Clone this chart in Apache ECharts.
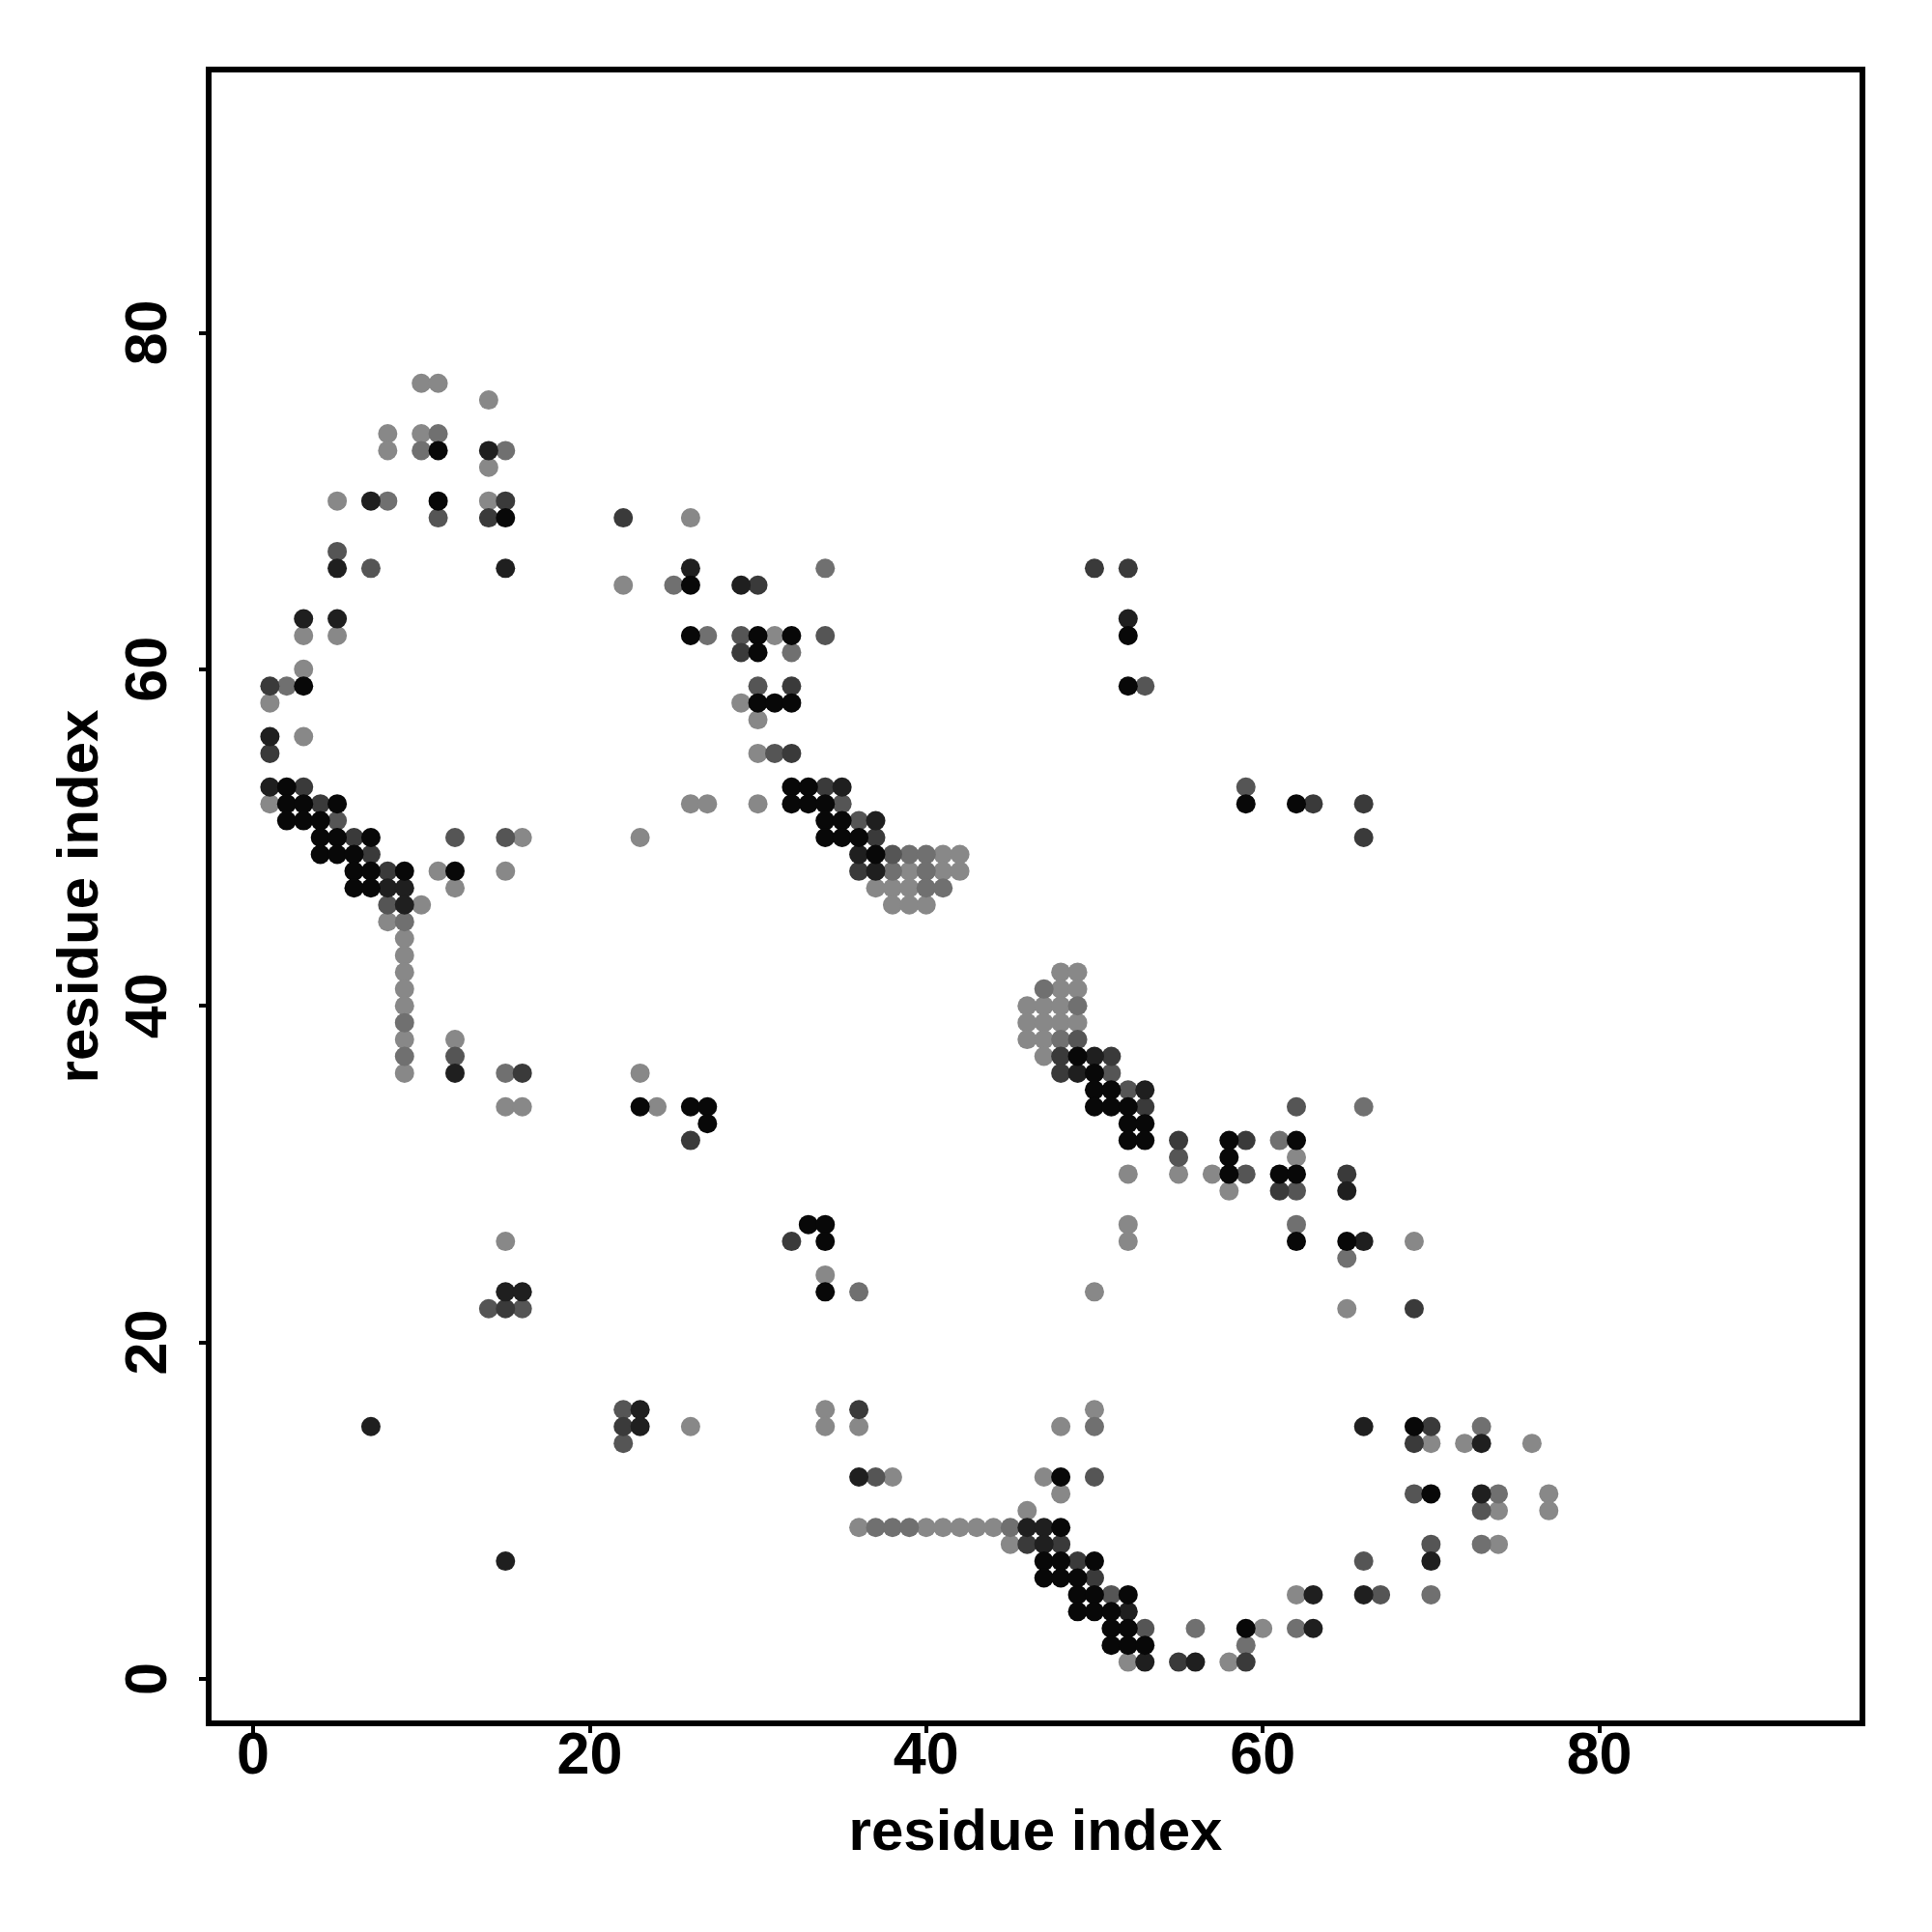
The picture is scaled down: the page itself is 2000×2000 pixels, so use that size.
<!DOCTYPE html>
<html>
<head>
<meta charset="utf-8">
<script src="https://cdn.jsdelivr.net/npm/echarts@6/dist/echarts.min.js"></script>
<style>html,body{margin:0;padding:0;background:#fff}#c{width:2000px;height:2000px}</style>
</head>
<body>
<div id="c"></div>
<script>
// Tick labels
const xTicks = [0, 20, 40, 60, 80];
const yTicks = [0, 20, 40, 60, 80];
// Contact points [x, y] grouped by shade (darkest first)
const shadeBlack = [[11,73],[11,70],[15,69],[26,65],[26,62],[3,59],[2,53],[2,52],[3,52],[5,52],[2,51],[3,51],[4,51],
[30,62],[32,62],[52,62],[30,61],[52,59],[30,58],[31,58],[32,58],[32,53],[33,53],[32,52],[33,52],[34,52],[34,51],[35,51],
[59,52],[62,52],
[4,50],[5,50],[7,50],[4,49],[5,49],[6,49],[6,48],[7,48],[9,48],[12,48],[6,47],[7,47],[23,34],[26,34],
[34,50],[35,50],[36,50],[37,49],[49,37],[50,36],[50,35],[51,35],[50,34],[51,34],[52,34],[52,33],[52,32],[27,34],[27,33],[33,27],[34,27],[34,26],
[53,33],[53,32],[58,32],[62,32],[58,31],[58,30],[61,30],[62,30],[62,26],[65,26],
[34,23],[48,12],[48,9],[47,7],[48,7],[50,7],[47,6],[48,6],[49,6],[49,5],[50,5],[52,5],[49,4],[50,4],[51,4],[51,3],[52,3],[51,2],[52,2],
[69,15],[70,11],[59,3],[53,2]];
const shadeDark = [[14,73],[7,70],[5,66],[15,66],[26,66],[3,63],[5,63],[1,56],[1,53],
[29,65],[52,63],[35,53],[37,51],
[8,47],[9,47],[9,46],[12,36],
[36,49],[37,48],[50,37],[49,36],
[53,35],[65,29],[66,26],
[15,23],[16,23],[7,15],[23,16],[23,15],[15,7],
[36,12],[46,9],[47,9],[47,8],[52,4],
[66,15],[73,14],[73,11],[70,7],[63,5],[66,5],[63,3],[53,1],[56,1]];
const shadeDarkMid = [[15,70],[14,69],[22,69],[1,59],[1,55],[3,53],[4,52],
[50,66],[52,66],[30,65],[29,61],[32,59],[32,55],[34,53],
[63,52],[66,52],
[6,50],[7,49],[8,48],[16,36],[26,32],
[37,50],[36,48],[48,37],[51,37],[48,36],[32,26],
[66,50],[53,34],[55,32],[59,32],[65,30],[61,29],
[15,22],[22,15],
[36,16],[46,8],[48,8],[49,7],[50,6],
[69,22],[70,15],[69,14],[55,1],[59,1]];
const shadeMid = [[11,69],[5,67],[7,66],[5,51],
[29,62],[34,62],[30,59],[31,55],[35,52],[36,51],
[53,59],[59,53],
[12,50],[15,50],[8,46],[12,37],
[38,49],[49,38],[51,36],[52,35],
[62,34],[55,31],[59,30],[62,29],
[14,22],[16,22],[22,16],[22,14],
[37,12],[50,12],[51,5],
[69,11],[73,10],[70,8],[66,7],[67,5],[53,3]];
const shadeMidLight = [[11,74],[10,73],[15,73],[8,70],[25,65],[2,59],
[34,66],[27,62],[32,61],
[9,45],[9,39],[9,37],[15,36],
[39,49],[40,49],[38,48],[40,48],[40,47],[41,47],[47,41],[49,40],[48,38],
[61,32],[66,34],[62,27],[65,25],
[36,23],[50,15],[37,9],[38,9],[39,9],[45,9],
[73,15],[74,11],[73,8],[70,5],[56,3],[62,3],[59,2]];
const shadeLight = [[10,77],[11,77],[14,76],[8,74],[10,74],[8,73],[14,72],[5,70],[14,70],[26,69],[22,65],[3,62],[5,62],[3,60],[1,58],[3,56],[1,52],[26,52],
[31,62],[29,58],[30,57],[30,55],[27,52],[30,52],
[16,50],[23,50],[11,48],[15,48],[12,47],[10,46],[8,45],[9,44],[9,43],[9,42],[9,41],[9,40],[9,38],[9,36],[12,38],[23,36],[15,34],[16,34],[24,34],[15,26],
[41,49],[42,49],[39,48],[41,48],[42,48],[37,47],[38,47],[39,47],[38,46],[39,46],[40,46],[48,42],[49,42],[48,41],[49,41],[46,40],[47,40],[48,40],[46,39],[47,39],[48,39],[49,39],[46,38],[47,38],[47,37],[52,30],[52,27],[52,26],
[62,31],[55,30],[57,30],[58,29],[69,26],
[26,15],
[34,24],[50,23],[34,16],[50,16],[34,15],[36,15],[48,15],[38,12],[47,12],[48,11],[46,10],[36,9],[40,9],[41,9],[42,9],[43,9],[44,9],[45,8],[52,1],
[65,22],[70,14],[72,14],[76,14],[77,11],[74,10],[77,10],[74,8],[62,5],[60,3],[58,1]];

const groups = [
  {data: shadeLight, color: '#888888'},
  {data: shadeMidLight, color: '#707070'},
  {data: shadeMid, color: '#555555'},
  {data: shadeDarkMid, color: '#3a3a3a'},
  {data: shadeDark, color: '#1f1f1f'},
  {data: shadeBlack, color: '#080808'}
];

const font = 'Liberation Sans, Arial, Helvetica, sans-serif';
const chart = echarts.init(document.getElementById('c'), null, {renderer: 'canvas'});
function axis(ticks, isY) {
  return {
    type: 'value', min: -2.64, max: 95.64,
    name: 'residue index', nameLocation: 'middle', nameGap: isY ? 102 : 84,
    nameTextStyle: {fontSize: 60, fontWeight: 'bold', color: '#000', fontFamily: font},
    splitLine: {show: false},
    axisLine: {show: false, onZero: false},
    axisTick: {show: true, length: 10, customValues: ticks, lineStyle: {color: '#000', width: 4}},
    axisLabel: {customValues: ticks, fontSize: 61, fontWeight: 'bold', color: '#000', fontFamily: font,
      rotate: isY ? 90 : 0, margin: isY ? 30 : 5}
  };
}
chart.setOption({
  animation: false,
  backgroundColor: '#fff',
  grid: {left: 216, right: 72, top: 72, bottom: 216, show: true, borderColor: '#000', borderWidth: 6, backgroundColor: 'transparent'},
  xAxis: axis(xTicks, false),
  yAxis: axis(yTicks, true),
  series: groups.map(g => ({
    type: 'scatter', data: g.data, symbol: 'circle', symbolSize: 20,
    itemStyle: {color: g.color, opacity: 1}, silent: true
  }))
});
</script>
</body>
</html>
